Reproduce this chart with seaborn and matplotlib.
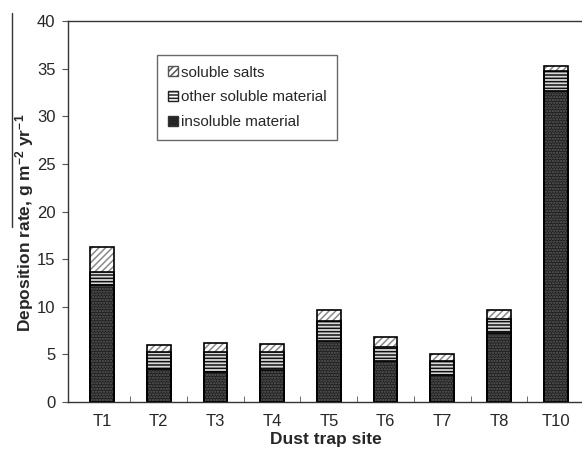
import numpy as np
import pandas as pd
import seaborn as sns
import matplotlib.pyplot as plt
from matplotlib.patches import Patch
from matplotlib.lines import Line2D

sites = ['T1', 'T2', 'T3', 'T4', 'T5', 'T6', 'T7', 'T8', 'T10']
insoluble = [12.3, 3.5, 3.2, 3.4, 6.45, 4.35, 2.8, 7.2, 32.7]
other_soluble = [1.4, 1.7, 2.0, 1.8, 2.05, 1.45, 1.5, 1.5, 2.1]
soluble_salts = [2.6, 0.8, 1.0, 0.9, 1.15, 1.0, 0.7, 1.0, 0.5]

df = pd.DataFrame({'site': sites, 'insol': insoluble,
                   'other': other_soluble, 'salts': soluble_salts})
df['lvl2'] = df['insol'] + df['other']
df['total'] = df['lvl2'] + df['salts']

sns.set_style('ticks')
plt.rcParams['font.family'] = ['Liberation Sans', 'DejaVu Sans']
plt.rcParams['mathtext.fontset'] = 'custom'
plt.rcParams['mathtext.rm'] = 'Liberation Sans'
plt.rcParams['mathtext.bf'] = 'Liberation Sans:bold'
plt.rcParams['mathtext.default'] = 'bf'
plt.rcParams['hatch.linewidth'] = 1.1

fig = plt.figure(figsize=(5.82, 4.54), dpi=100)
ax = fig.add_axes([68/582, 1-402/454, 516/582, 381/454])

# stacked bars: draw cumulative totals, biggest first
layers = [
    ('total', 'white', '#8a8a8a', '/////'),
    ('lvl2', '#d8d8d8', '#111111', '-----'),
    ('insol', '#1e1e1e', '#5e5e5e', '......'),
]
for col, face, hc, hatch in layers:
    sns.barplot(data=df, x='site', y=col, color=face, saturation=1, ax=ax,
                width=0.42, hatch=hatch, edgecolor=hc, linewidth=0,
                errorbar=None)
for col in ['total', 'lvl2', 'insol']:
    sns.barplot(data=df, x='site', y=col, fill=False, ax=ax, width=0.42,
                edgecolor='black', linewidth=1.2, errorbar=None)

ax.set_ylim(0, 40)
ax.set_yticks(np.arange(0, 41, 5))
ax.set_xlim(-0.6, 8.5)
ax.set_xticks(range(len(sites)))
ax.set_xticklabels(sites)
ax.set_xticks(np.arange(0.5, 8, 1), minor=True)
ax.tick_params(axis='x', which='major', length=0, labelsize=12, pad=9)
ax.tick_params(axis='x', which='minor', direction='in', length=4, color='#555555')
ax.tick_params(axis='y', length=4, labelsize=12, color='#555555', pad=5)
for s in ax.spines.values():
    s.set_color('#333333')
    s.set_linewidth(1.0)

ax.set_xlabel('Dust trap site', fontsize=12.5, fontweight='bold', labelpad=2)
ax.set_ylabel(r'Deposition rate, g m$^{-2}$ yr$^{-1}$', fontsize=12.5,
              fontweight='bold')
ax.yaxis.set_label_coords(-0.062, 0.47)

handles = [
    Patch(facecolor='white', edgecolor='#555555', hatch='/////', label='soluble salts'),
    Patch(facecolor='white', edgecolor='#222222', hatch='-----', label='other soluble material'),
    Patch(facecolor='#1e1e1e', edgecolor='#333333', hatch='......', label='insoluble material'),
]
leg = ax.legend(handles=handles, loc='upper left',
                bbox_to_anchor=((157-68)/516, (402-55)/381),
                fontsize=11, frameon=True, fancybox=False, edgecolor='#444444',
                handlelength=0.65, handleheight=0.65, handletextpad=0.2,
                labelspacing=0.7, borderpad=0.7, borderaxespad=0)
leg.get_frame().set_linewidth(1.0)

# stray vertical rule left of the y label
fig.add_artist(Line2D([12/582, 12/582], [1-13/454, 1-227/454],
                      color='#333333', linewidth=1.0))

fig.savefig('out.png', dpi=100)
